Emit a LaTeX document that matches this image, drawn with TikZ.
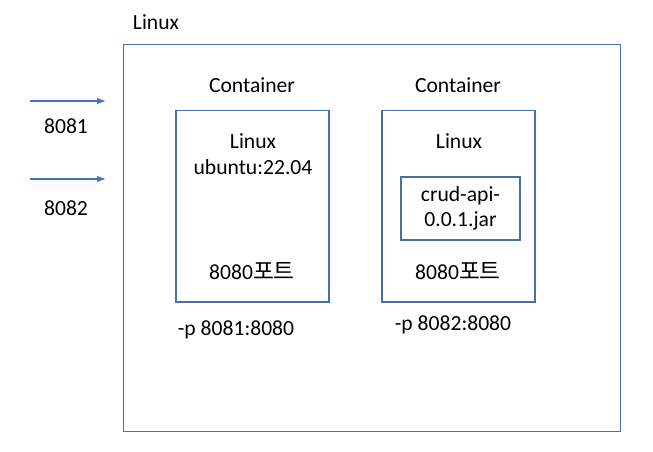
\documentclass[tikz,border=0pt]{standalone}
\usepackage{fontspec}
\setmainfont{Carlito}
\newfontfamily\kofont{Noto Sans CJK KR}[Scale=1.05]
\usetikzlibrary{arrows.meta}
\definecolor{LXBox}{HTML}{4A6FA5}
\definecolor{LXArrow}{HTML}{4472C4}

\begin{document}
\begin{tikzpicture}[x=0.02cm,y=-0.02cm,
  lbl/.style={font=\fontsize{12.3}{14.6}\selectfont,align=center,inner sep=0pt},
  hostbox/.style={draw=LXBox,line width=0.6pt,inner sep=0pt},
  portarrow/.style={draw=LXArrow,line width=0.6pt,-{Latex[length=5pt,width=3.6pt]}}]
\path[use as bounding box] (0,0) rectangle (653,451);
% host machine
\node[hostbox,minimum width=9.96cm,minimum height=7.76cm] (host) at (372,238) {};
\node[lbl] (hostlbl) at (156,22) {Linux};
% first container
\node[hostbox,minimum width=3.06cm,minimum height=3.84cm] (ubuntu) at (252.5,206) {};
\node[lbl] (ubuntulbl) at (252,85) {Container};
\node[lbl] (ubuntuos) at (253,154) {Linux\\ubuntu:22.04};
\node[lbl] (ubuntuport) at (252,271) {8080{\kofont 포트}};
\node[lbl] (ubuntumap) at (236,330) {-p 8081:8080};
% second container
\node[hostbox,minimum width=3.06cm,minimum height=3.84cm] (crud) at (458.5,206) {};
\node[lbl] (crudlbl) at (458,85) {Container};
\node[lbl] (crudos) at (459,141) {Linux};
\node[hostbox,minimum width=2.38cm,minimum height=1.26cm] (jar) at (460.5,208.5) {};
\node[lbl] at (jar) {crud-api-\\0.0.1.jar};
\node[lbl] (crudport) at (458,271) {8080{\kofont 포트}};
\node[lbl] (crudmap) at (453,325) {-p 8082:8080};
% incoming ports
\coordinate (in1) at (30,101);
\coordinate (in2) at (30,179);
\coordinate (to1) at (106,101);
\coordinate (to2) at (106,179);
\draw[portarrow] (in1) -- (to1);
\draw[portarrow] (in2) -- (to2);
\node[lbl] (p8081) at (66,126) {8081};
\node[lbl] (p8082) at (66,208) {8082};
\end{tikzpicture}
\end{document}
